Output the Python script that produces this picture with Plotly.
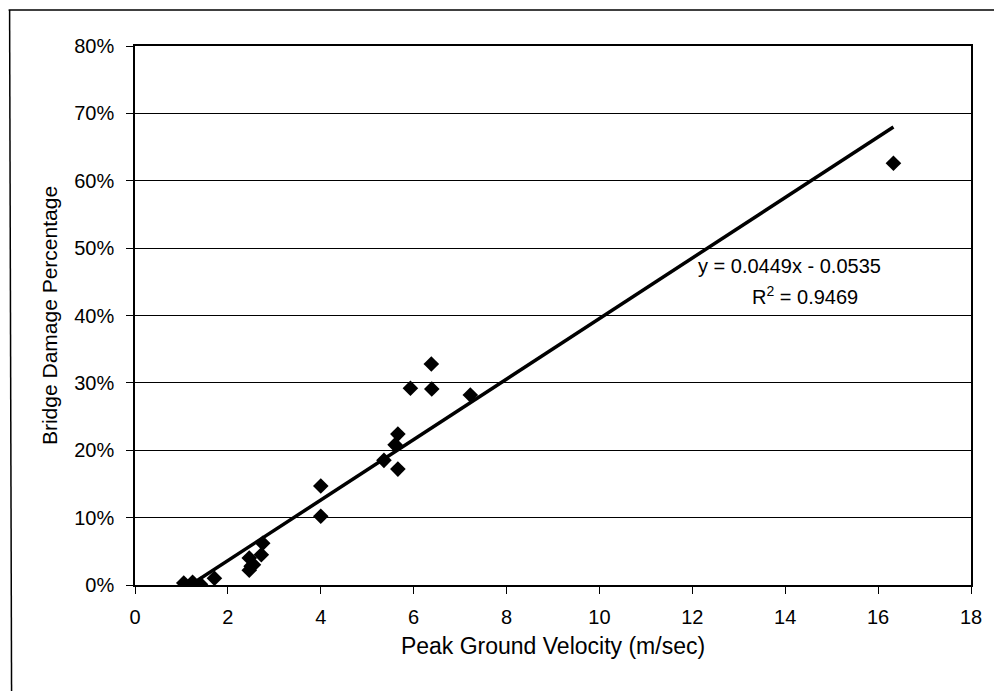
import plotly.graph_objects as go

# Data
pgv = [1.05, 1.24, 1.41, 1.71, 2.46, 2.50, 2.46, 2.55, 2.72, 2.75,
       4.00, 4.00, 5.36, 5.60, 5.66, 5.66, 5.93, 6.38, 6.39, 7.22, 16.33]
damage = [0.003, 0.004, 0.001, 0.010, 0.022, 0.028, 0.040, 0.030, 0.045, 0.062,
          0.102, 0.147, 0.185, 0.208, 0.224, 0.172, 0.292, 0.328, 0.291, 0.282, 0.626]

slope = 0.0449
intercept = -0.0535
eq_text = "y = 0.0449x - 0.0535"
r2_text = "R<sup>2</sup> = 0.9469"

x_ticks = [0, 2, 4, 6, 8, 10, 12, 14, 16, 18]
y_ticks = [0, 0.1, 0.2, 0.3, 0.4, 0.5, 0.6, 0.7, 0.8]

FONT = "Arial, Liberation Sans, sans-serif"

fig = go.Figure()

x0 = -intercept / slope
x1 = max(pgv)
fig.add_trace(go.Scatter(
    x=[x0, x1], y=[slope * x0 + intercept, slope * x1 + intercept],
    mode="lines", line=dict(color="black", width=3.5), showlegend=False,
    hoverinfo="skip"))

fig.add_trace(go.Scatter(
    x=pgv, y=damage, mode="markers",
    marker=dict(symbol="diamond", size=12, color="black"),
    showlegend=False))

fig.update_layout(
    width=994, height=691,
    margin=dict(l=135, r=19, t=46, b=106),
    paper_bgcolor="white", plot_bgcolor="white",
    font=dict(family=FONT, size=20, color="black"),
    xaxis=dict(range=[0, 18], tickvals=x_ticks, showgrid=False,
               showline=True, linecolor="black", linewidth=1.5, mirror=True,
               ticks="outside", ticklen=7, tickcolor="black",
               ticklabelstandoff=6, zeroline=False,
               title=dict(text="Peak Ground Velocity (m/sec)", standoff=11,
                          font=dict(size=23))),
    yaxis=dict(range=[0, 0.8], tickvals=y_ticks, tickformat=".0%",
               showgrid=True, gridcolor="black", gridwidth=1,
               showline=True, linecolor="black", linewidth=1.5, mirror=True,
               ticks="outside", ticklen=7, tickcolor="black",
               ticklabelstandoff=8, zeroline=False,
               title=dict(text="Bridge Damage Percentage", standoff=11,
                          font=dict(size=21))),
    annotations=[
        dict(x=14.10, y=0.4733, xref="x", yref="y", text=eq_text,
             showarrow=False, font=dict(size=20), xanchor="center",
             yanchor="middle"),
        dict(x=14.42, y=0.430, xref="x", yref="y", text=r2_text,
             showarrow=False, font=dict(size=20), xanchor="center",
             yanchor="middle"),
    ],
    shapes=[
        dict(type="line", xref="paper", yref="paper",
             x0=(8 - 135) / 840, x1=(1000 - 135) / 840,
             y0=(585 - 10) / 539, y1=(585 - 10) / 539,
             line=dict(color="black", width=1.5)),
        dict(type="line", xref="paper", yref="paper",
             x0=(9 - 135) / 840, x1=(11 - 135) / 840,
             y0=(585 - 10) / 539, y1=(585 - 700) / 539,
             line=dict(color="black", width=1.5)),
    ],
)

fig.write_html("out.html")
